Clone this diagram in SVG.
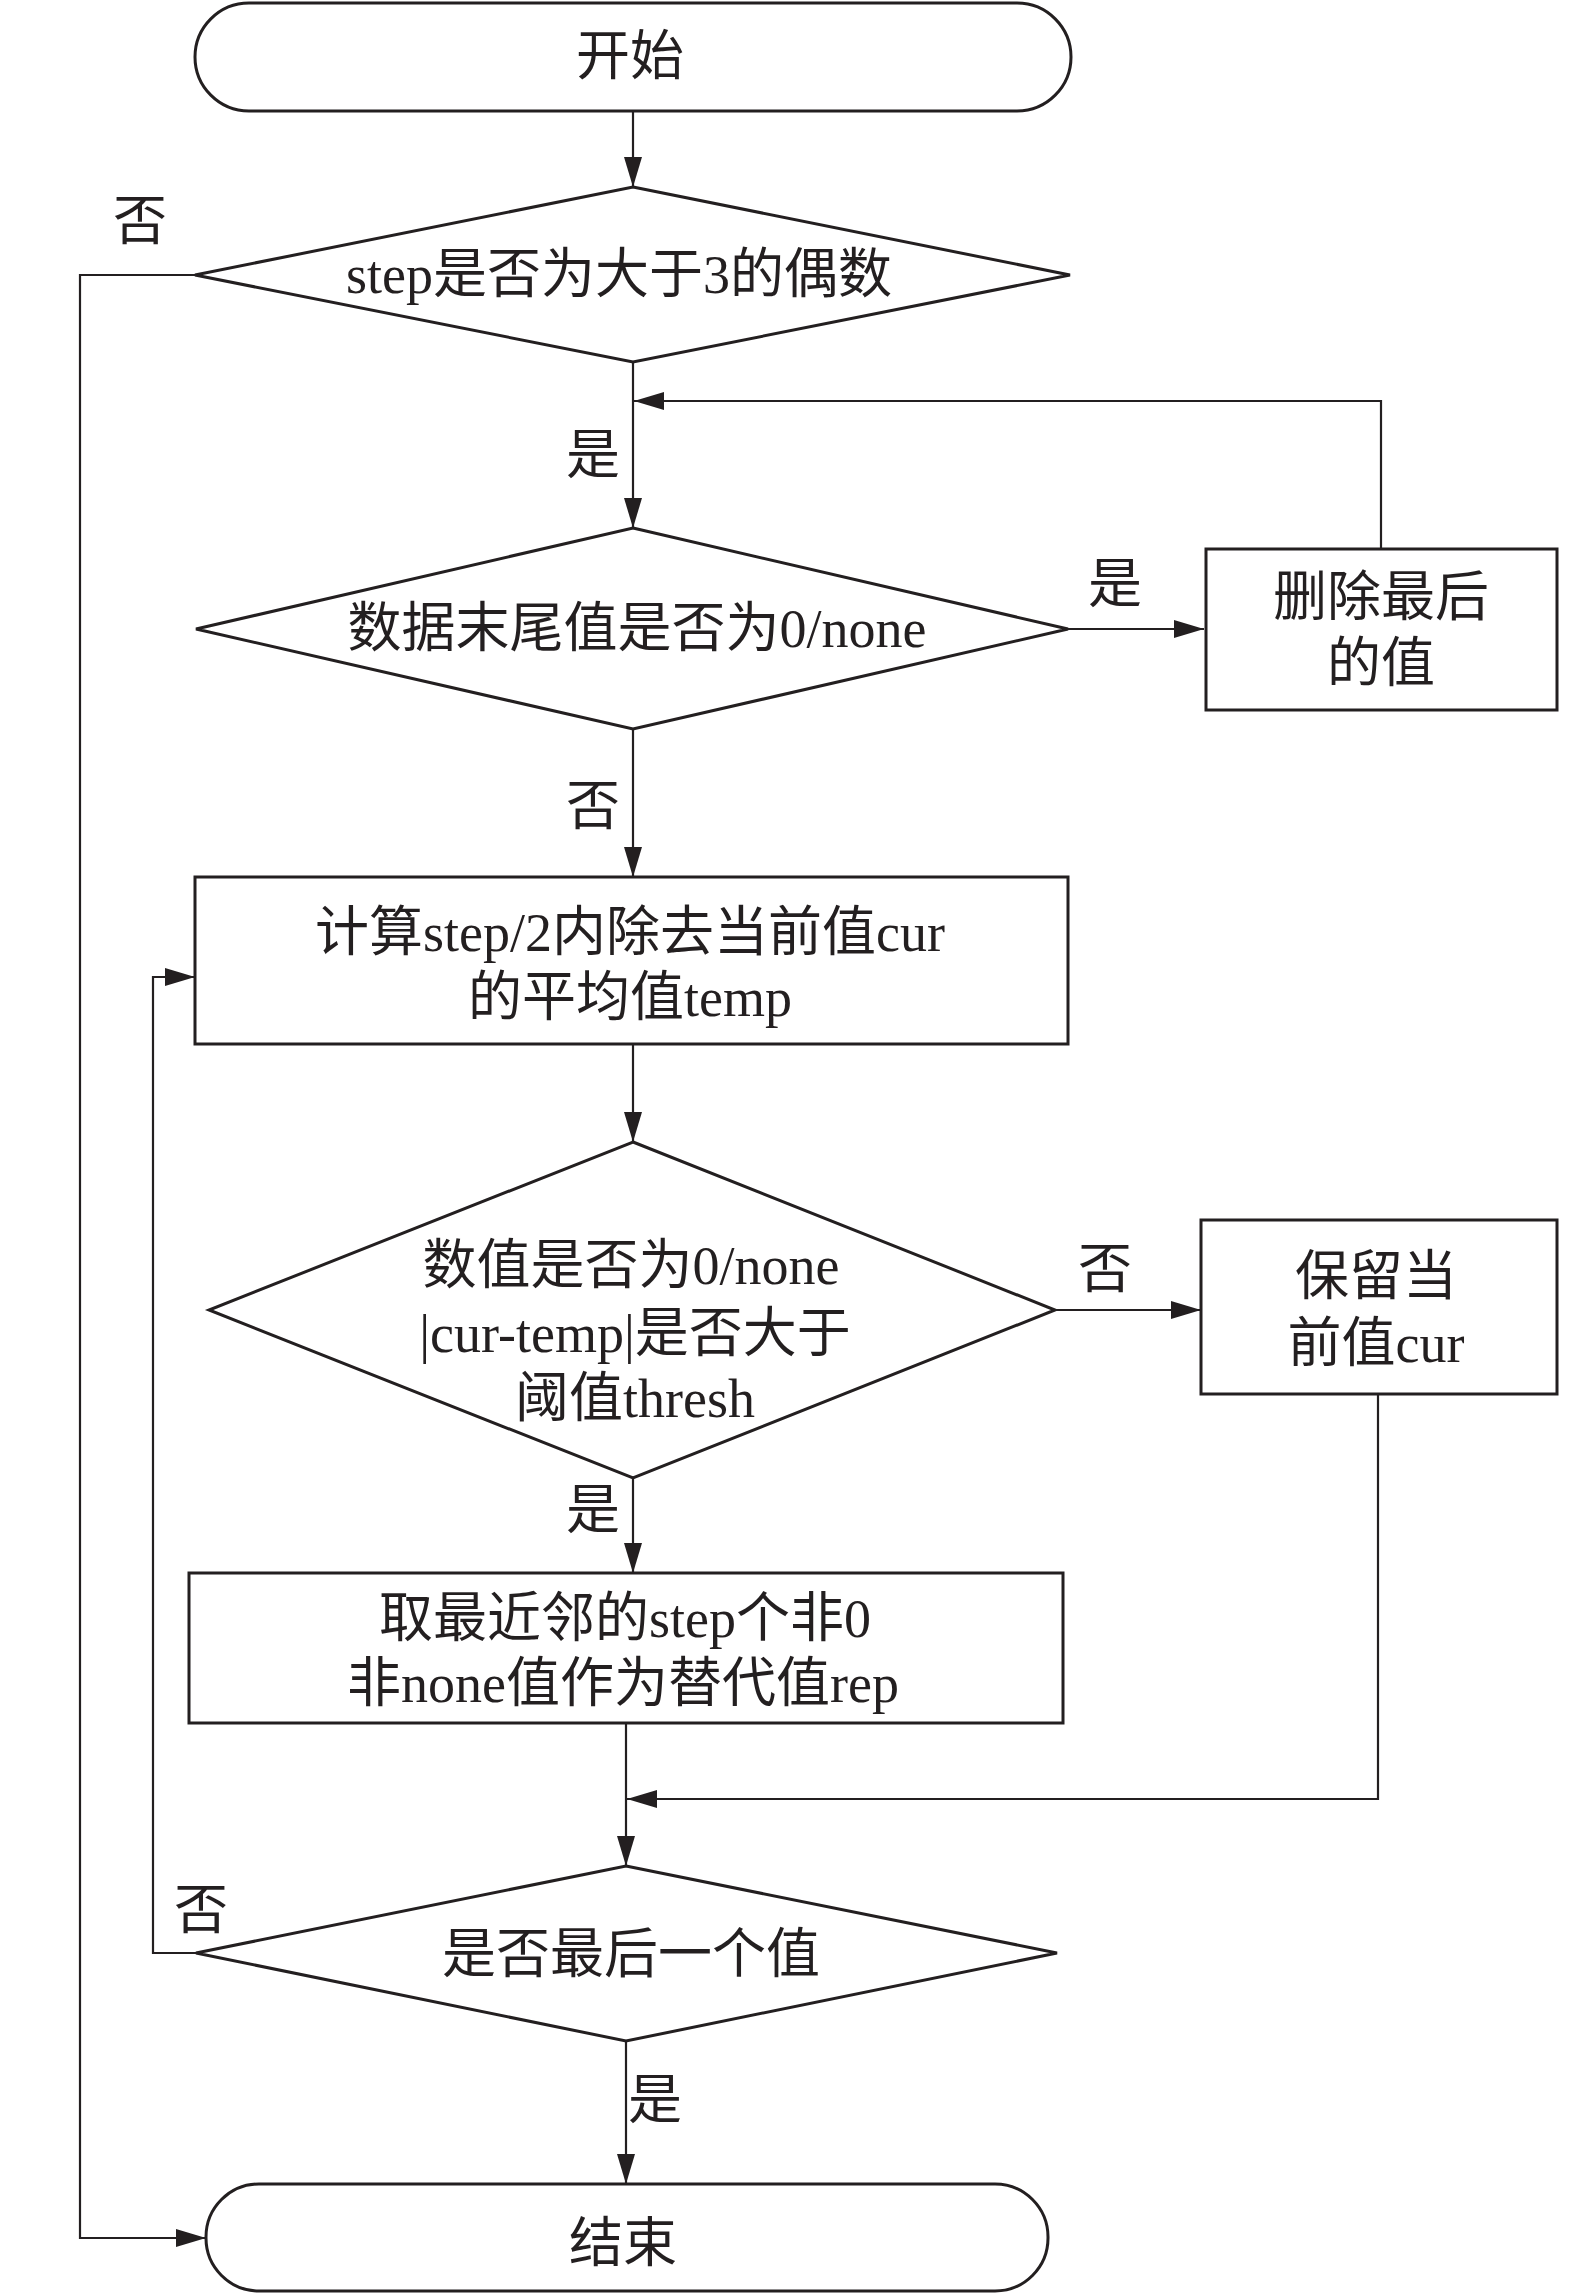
<svg xmlns="http://www.w3.org/2000/svg" width="1575" height="2295" viewBox="0 0 1575 2295">
<style>
.s{fill:#fff;stroke:#231f20;stroke-width:3}
.c{fill:none;stroke:#231f20;stroke-width:2.2}
text{font-family:"Liberation Serif","Noto Sans CJK SC",serif;font-size:54px;fill:#231f20;text-anchor:middle;dominant-baseline:central}
</style>
<defs>
<marker id="a" markerUnits="userSpaceOnUse" markerWidth="30" markerHeight="18" refX="30" refY="9" orient="auto">
<path d="M0,0 L30,9 L0,18 z" fill="#231f20"/>
</marker>
</defs>
<rect width="1575" height="2295" fill="#fff"/>
<g id="connectors">
<path class="c" d="M633,111 V187" marker-end="url(#a)"/>
<path class="c" d="M195,275 H80 V2238 H206" marker-end="url(#a)"/>
<path class="c" d="M633,362 V528" marker-end="url(#a)"/>
<path class="c" d="M1381,549 V401 H634" marker-end="url(#a)"/>
<path class="c" d="M1068,629 H1204" marker-end="url(#a)"/>
<path class="c" d="M633,729 V877" marker-end="url(#a)"/>
<path class="c" d="M633,1044 V1142" marker-end="url(#a)"/>
<path class="c" d="M1055,1310 H1201" marker-end="url(#a)"/>
<path class="c" d="M633,1478 V1573" marker-end="url(#a)"/>
<path class="c" d="M1378,1394 V1799 H627" marker-end="url(#a)"/>
<path class="c" d="M626,1723 V1866" marker-end="url(#a)"/>
<path class="c" d="M198,1953 H153 V977 H195" marker-end="url(#a)"/>
<path class="c" d="M626,2041 V2184" marker-end="url(#a)"/>
<text x="140" y="222">否</text>
<text x="593" y="456">是</text>
<text x="1115" y="585">是</text>
<text x="593" y="807">否</text>
<text x="1105" y="1270">否</text>
<text x="593" y="1511">是</text>
<text x="201" y="1911">否</text>
<text x="655" y="2101">是</text>
</g>
<g id="start">
<rect class="s" x="195" y="3" width="876" height="108" rx="54" ry="54"/>
<text x="630" y="57">开始</text>
</g>
<g id="d1">
<polygon class="s" points="633,187 1070,275 633,362 195,275"/>
<text x="619" y="275">step是否为大于3的偶数</text>
</g>
<g id="d2">
<polygon class="s" points="633,528 1068,629 633,729 196,629"/>
<text x="637" y="629">数据末尾值是否为0/none</text>
</g>
<g id="delLast">
<rect class="s" x="1206" y="549" width="351" height="161"/>
<text x="1381" y="598">删除最后</text>
<text x="1381" y="664">的值</text>
</g>
<g id="calc">
<rect class="s" x="195" y="877" width="873" height="167"/>
<text x="630" y="933">计算step/2内除去当前值cur</text>
<text x="630" y="998">的平均值temp</text>
</g>
<g id="d3">
<polygon class="s" points="633,1142 1055,1310 633,1478 209,1310"/>
<text x="631" y="1266">数值是否为0/none</text>
<text x="635" y="1334">|cur-temp|是否大于</text>
<text x="635" y="1399">阈值thresh</text>
</g>
<g id="keep">
<rect class="s" x="1201" y="1220" width="356" height="174"/>
<text x="1376" y="1277">保留当</text>
<text x="1376" y="1344">前值cur</text>
</g>
<g id="replace">
<rect class="s" x="189" y="1573" width="874" height="150"/>
<text x="625" y="1619">取最近邻的step个非0</text>
<text x="623" y="1684">非none值作为替代值rep</text>
</g>
<g id="d4">
<polygon class="s" points="626,1866 1057,1953 626,2041 196,1953"/>
<text x="631" y="1955">是否最后一个值</text>
</g>
<g id="end">
<rect class="s" x="206" y="2184" width="842" height="107" rx="53" ry="53"/>
<text x="623" y="2244">结束</text>
</g>
</svg>
